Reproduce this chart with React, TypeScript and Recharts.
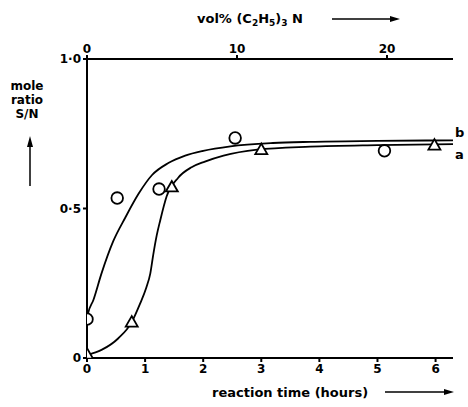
import { ComposedChart, Line, Scatter, XAxis, YAxis } from 'recharts';

// measured points, reaction time (h) vs mole ratio S/N
const circleTime = [0, 0.52, 1.24, 2.55, 5.12];
const circleRatio = [0.13, 0.535, 0.565, 0.736, 0.693];
const triangleTime = [0, 0.77, 1.46, 3.0, 5.98];
const triangleRatio = [0.013, 0.12, 0.572, 0.697, 0.712];

// drawn curves
const curveBTime = [0, 0.02, 0.11, 0.25, 0.45, 0.66, 0.89, 1.12, 1.4, 1.69, 2.0, 2.47, 3.2, 3.84, 5, 6.3];
const curveBRatio = [0.13, 0.15, 0.194, 0.283, 0.39, 0.47, 0.55, 0.612, 0.652, 0.677, 0.693, 0.708, 0.719, 0.723, 0.726, 0.728];
const curveATime = [0, 0.25, 0.54, 0.77, 0.91, 1.02, 1.09, 1.14, 1.2, 1.26, 1.37, 1.57, 1.8, 2.03, 2.35, 2.93, 3.84, 5, 6.3];
const curveARatio = [0.01, 0.027, 0.066, 0.12, 0.18, 0.235, 0.283, 0.345, 0.41, 0.46, 0.54, 0.603, 0.638, 0.657, 0.677, 0.697, 0.707, 0.712, 0.715];

const timeTicks = [0, 1, 2, 3, 4, 5, 6];
const volTicks = [0, 10, 20];
const ratioTicks = [0, 0.5, 1];
const ratioLabels = ['0', '0·5', '1·0'];

const zip = (xs: number[], ys: number[]) => xs.map((x, i) => ({ x, y: ys[i] }));

const circles = zip(circleTime, circleRatio);
const triangles = zip(triangleTime, triangleRatio);
const curveA = zip(curveATime, curveARatio);
const curveB = zip(curveBTime, curveBRatio);

const font = '"DejaVu Sans", sans-serif';
const tickStyle = { fill: '#000', fontSize: 12, fontWeight: 'bold', fontFamily: font };

function Circle(props: any) {
  const { cx, cy } = props;
  return <circle cx={cx} cy={cy} r={5.8} fill="#fff" stroke="#000" strokeWidth={1.8} />;
}

function Triangle(props: any) {
  const { cx, cy } = props;
  return (
    <polygon
      points={`${cx},${cy - 6} ${cx - 6},${cy + 4.5} ${cx + 6},${cy + 4.5}`}
      fill="#fff"
      stroke="#000"
      strokeWidth={1.8}
    />
  );
}

export default function App() {
  return (
    <div style={{ position: 'absolute', left: 0, top: 0, width: 468, height: 407, background: '#fff' }}>
      <ComposedChart width={468} height={407} margin={{ top: 29, right: 15, bottom: 19, left: 47 }}>
        <XAxis
          xAxisId="bottom"
          type="number"
          dataKey="x"
          domain={[0, 6.3]}
          ticks={timeTicks}
          allowDataOverflow
          stroke="#000"
          strokeWidth={2}
          tickSize={4}
          height={30}
          tick={tickStyle}
        />
        <XAxis
          xAxisId="top"
          orientation="top"
          type="number"
          dataKey="x"
          domain={[0, 24.4]}
          ticks={volTicks}
          allowDataOverflow
          stroke="#000"
          strokeWidth={2}
          tickSize={4}
          height={30}
          tick={tickStyle}
        />
        <YAxis
          type="number"
          dataKey="y"
          domain={[0, 1]}
          ticks={ratioTicks}
          tickFormatter={(v: number) => ratioLabels[ratioTicks.indexOf(v)]}
          allowDataOverflow
          stroke="#000"
          strokeWidth={2}
          tickSize={4}
          width={40}
          tick={tickStyle}
        />
        <Scatter xAxisId="top" data={[]} dataKey="y" isAnimationActive={false} />
        <Line xAxisId="bottom" data={curveB} dataKey="y" type="monotone" stroke="#000" strokeWidth={1.8} dot={false} isAnimationActive={false} />
        <Line xAxisId="bottom" data={curveA} dataKey="y" type="monotone" stroke="#000" strokeWidth={1.8} dot={false} isAnimationActive={false} />
        <Scatter xAxisId="bottom" data={circles} dataKey="y" shape={Circle} isAnimationActive={false} />
        <Scatter xAxisId="bottom" data={triangles} dataKey="y" shape={Triangle} isAnimationActive={false} />
      </ComposedChart>
      <svg
        width={468}
        height={407}
        style={{ position: 'absolute', left: 0, top: 0, pointerEvents: 'none' }}
        fontFamily={font}
        fontWeight="bold"
        fontSize={13}
      >
        <text x={197} y={23}>
          vol% (C<tspan fontSize={9} dy={3}>2</tspan>
          <tspan dy={-3}>H</tspan>
          <tspan fontSize={9} dy={3}>5</tspan>
          <tspan dy={-3}>)</tspan>
          <tspan fontSize={9} dy={3}>3</tspan>
          <tspan dy={-3}> N</tspan>
        </text>
        <line x1={332} y1={19} x2={392} y2={19} stroke="#000" strokeWidth={1.5} />
        <polygon points="400,19 390,16 390,22" fill="#000" />

        <text x={27} y={90} textAnchor="middle" fontSize={12}>mole</text>
        <text x={27} y={104} textAnchor="middle" fontSize={12}>ratio</text>
        <text x={27} y={118} textAnchor="middle" fontSize={12}>S/N</text>
        <line x1={30} y1={186} x2={30} y2={145} stroke="#000" strokeWidth={1.5} />
        <polygon points="30,136 27,147 33,147" fill="#000" />

        <text x={455} y={137}>b</text>
        <text x={455} y={159}>a</text>

        <text x={212} y={397}>reaction time (hours)</text>
        <line x1={385} y1={392} x2={445} y2={392} stroke="#000" strokeWidth={1.5} />
        <polygon points="454,392 444,389 444,395" fill="#000" />
      </svg>
    </div>
  );
}
